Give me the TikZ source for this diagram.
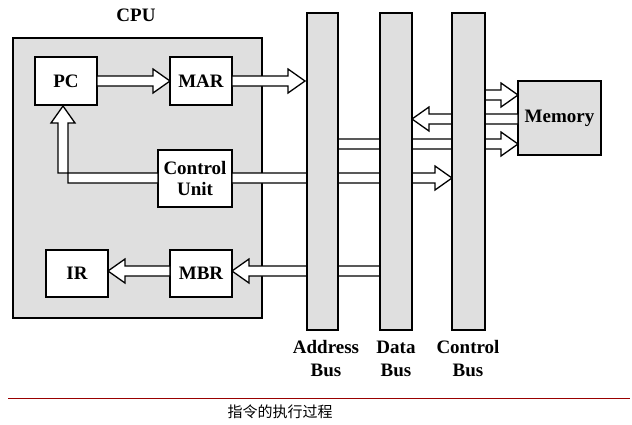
\documentclass[tikz,border=0pt]{standalone}
\usepackage{fontspec}
\setmainfont{Liberation Serif}
\newfontfamily\cjk{Noto Sans CJK SC}
\usetikzlibrary{calc}
\newcommand\rarr[3]{\draw[arr] (#1,{-#3+5})--({#2-17},{-#3+5})--({#2-17},{-#3+12})--(#2,-#3)--({#2-17},{-#3-12})--({#2-17},{-#3-5})--(#1,{-#3-5})--cycle;}
\newcommand\larr[3]{\draw[arr] (#1,{-#3+5})--({#2+17},{-#3+5})--({#2+17},{-#3+12})--(#2,-#3)--({#2+17},{-#3-12})--({#2+17},{-#3-5})--(#1,{-#3-5})--cycle;}
\begin{document}
\begin{tikzpicture}[x=1pt,y=1pt,
  box/.style={draw,line width=1.5pt,fill=gray!25,font=\bfseries\fontsize{19}{21}\selectfont,align=center,inner sep=0pt},
  wbox/.style={box,fill=white},
  bus/.style={draw,line width=1.5pt,fill=gray!25},
  arr/.style={draw,line width=1.3pt,fill=white,line join=miter},
  lab/.style={font=\bfseries\fontsize{19}{23}\selectfont,align=center}]
\useasboundingbox[fill=white] (0,0) rectangle (632,-424);
\node[box,minimum width=249,minimum height=280,anchor=north west] (cpu) at (12,-37) {};
\node[lab] (cpul) at (136,-15) {CPU};
\node[wbox,minimum width=62,minimum height=48] (pc) at (66,-81) {PC};
\node[wbox,minimum width=62,minimum height=48] (mar) at (201,-81) {MAR};
\node[wbox,minimum width=74,minimum height=57] (cu) at (195,-178.5) {Control\\Unit};
\node[wbox,minimum width=62,minimum height=47] (ir) at (77,-273.5) {IR};
\node[wbox,minimum width=62,minimum height=47] (mbr) at (201,-273.5) {MBR};
\node[box,minimum width=83,minimum height=74] (mem) at (559.5,-118) {Memory};
% arrows
\rarr{97}{170}{81}
\rarr{232}{305}{81}
\larr{170}{108}{271}
\larr{380}{232}{271}
\rarr{232}{452}{178}
\rarr{330}{518}{144}
\larr{518}{412}{119}
\rarr{480}{518}{95}
\draw[arr] (158,-173)--(58,-173)--(58,-123)--(51,-123)--(63,-106)--(75,-123)--(68,-123)--(68,-183)--(158,-183)--cycle;
% buses
\draw[bus] (307,-13) rectangle (338,-330);
\draw[bus] (380,-13) rectangle (412,-330);
\draw[bus] (452,-13) rectangle (485,-330);
\node[lab] (ab) at (326,-359) {Address\\Bus};
\node[lab] (db) at (396,-359) {Data\\Bus};
\node[lab] (cb) at (468,-359) {Control\\Bus};
\draw[red!60!black,line width=0.6pt] (8,-398)--(630,-398);
\node[font=\cjk\fontsize{15}{17}\selectfont] (cap) at (280,-412) {指令的执行过程};
\end{tikzpicture}
\end{document}
